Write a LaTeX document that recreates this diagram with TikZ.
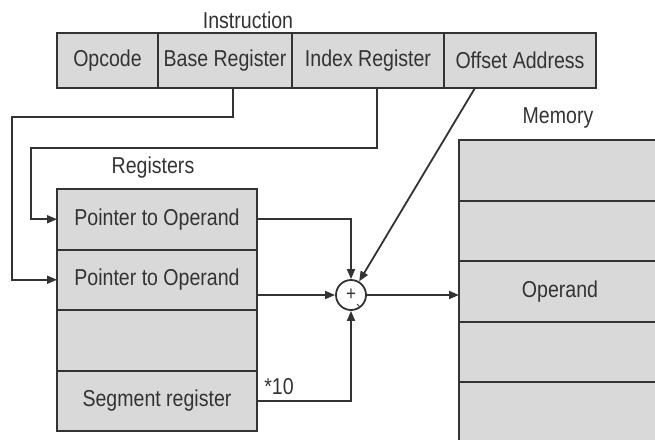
\documentclass[tikz,border=0pt]{standalone}
\usepackage{fontspec}
\setmainfont{Liberation Sans}[FakeStretch=0.85]
\usetikzlibrary{arrows.meta,calc,positioning}
\definecolor{ink}{HTML}{333333}
\definecolor{cellgray}{HTML}{D9D9D9}

\begin{document}
\begin{tikzpicture}[x=1pt,y=-1pt,>={Triangle[length=10pt,width=8pt]},
 every node/.style={font=\fontsize{23}{25}\selectfont,text=ink},
 cell/.style={draw=ink,fill=cellgray,line width=2pt,inner sep=0pt,outer sep=0pt,minimum height=55pt},
 reg/.style={cell,minimum width=200pt,minimum height=60.5pt},
 mem/.style={cell,minimum width=230pt,minimum height=60.5pt},
 wire/.style={ink,line width=1.8pt}]
 \useasboundingbox(0,0)rectangle(655,439);
 \clip(0,0)rectangle(655,439);
 \node[cell,minimum width=101pt,anchor=north west](opc)at(57,33){Opcode};
 \node[cell,minimum width=134pt,right=0pt of opc](bas){Base Register};
 \node[cell,minimum width=152pt,right=0pt of bas](idx){Index Register};
 \node[cell,minimum width=152pt,right=0pt of idx](off){Offset Address};
 \node at(248,20){Instruction};
 \node[reg,anchor=north west](r1)at(57,189){Pointer to Operand};
 \node[reg,below=0pt of r1](r2){Pointer to Operand};
 \node[reg,below=0pt of r2](r3){};
 \node[reg,below=0pt of r3](r4){Segment register};
 \node at(153,168){Registers};
 \node[mem,anchor=north west](m1)at(459,140){};
 \node[mem,below=0pt of m1](m2){};
 \node[mem,below=0pt of m2](m3){};
 \node[mem,below=0pt of m3](m4){};
 \node[mem,below=0pt of m4](m5){};
 \node at(558,118){Memory};
 \node at(560,292){Operand};
 \node[draw=ink,fill=white,circle,line width=1.8pt,minimum size=30pt,inner sep=0pt,
  font=\fontsize{20}{20}\selectfont](add)at(351,295){+};
 \draw[ink,line width=1pt](357,304)--(360,307);
 \node at(279,387){*10};
 \draw[wire,->]($(bas.south)+(8,0)$)|-(12,117)|-(r2.west);
 \draw[wire,->]($(idx.south)+(9,0)$)|-(31,148)|-(r1.west);
 \draw[wire,->]($(off.south)+(-45,0)$)--(add);
 \draw[wire,->](r1.east)-|(add.north);
 \draw[wire,->](add-|r2.east)--(add);
 \draw[wire,->](r4.east)-|(add.south);
 \draw[wire,->](add)--(add-|m3.west);
\end{tikzpicture}
\end{document}
